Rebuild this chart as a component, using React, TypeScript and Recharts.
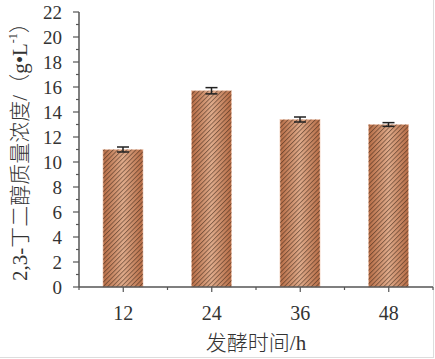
import React from 'react';
import { BarChart, Bar, XAxis, YAxis, ErrorBar } from 'recharts';

const categories = ['12', '24', '36', '48'];
const concentration = [11.0, 15.7, 13.4, 13.0];
const errors = [0.2, 0.25, 0.2, 0.15];
const yTicks = [0, 1, 2, 3, 4, 5, 6, 7, 8, 9, 10, 11, 12, 13, 14, 15, 16, 17, 18, 19, 20, 21, 22];
const yLabelTicks = [0, 2, 4, 6, 8, 10, 12, 14, 16, 18, 20, 22];
const xTitle = '发酵时间/h';
const yTitle = '2,3-丁二醇质量浓度/（g•L';

const data = categories.map((c, i) => ({ time: c, value: concentration[i], err: errors[i] }));

const SERIF = "'Liberation Serif', 'Noto Sans CJK SC', serif";
const AXIS = '#555';
const TXT = '#333';

const HatchBar = (props: any) => {
  const { x, y, width, height } = props;
  if (!height || height <= 0) return null;
  return (
    <g>
      <rect x={x} y={y} width={width} height={height} fill="url(#barGrad)" stroke="#f2cdb8" strokeWidth={0.8} />
      <rect x={x} y={y} width={width} height={height} fill="url(#hatch)" />
    </g>
  );
};

const YTick = (props: any) => {
  const { x, y, payload } = props;
  const ax = x + 17;
  const major = yLabelTicks.includes(payload.value);
  return (
    <g>
      <line x1={ax - (major ? 6 : 3)} x2={ax} y1={y} y2={y} stroke={AXIS} strokeWidth={1.2} />
      {major && (
        <text x={x} y={y} textAnchor="end" dominantBaseline="central" fontSize={19} fill={TXT} fontFamily={SERIF}>
          {payload.value}
        </text>
      )}
    </g>
  );
};

const XTick = (props: any) => {
  const { x, y, payload, width, visibleTicksCount, index } = props;
  const half = width / visibleTicksCount / 2;
  return (
    <g>
      <line x1={x} x2={x} y1={y} y2={y + 5} stroke={AXIS} strokeWidth={1.2} />
      <line x1={x + half} x2={x + half} y1={y} y2={y + 3} stroke={AXIS} strokeWidth={1.2} />
      {index === 0 && <line x1={x - half} x2={x - half} y1={y} y2={y + 3} stroke={AXIS} strokeWidth={1.2} />}
      <text x={x} y={y + 33} textAnchor="middle" fontSize={20} fill={TXT} fontFamily={SERIF}>
        {payload.value}
      </text>
    </g>
  );
};

const XLabel = (props: any) => {
  const vb = props.viewBox || {};
  return (
    <text x={vb.x + vb.width / 2} y={vb.y + 56} textAnchor="middle" dominantBaseline="central" fontSize={21} fontWeight={300} fill={TXT} fontFamily={SERIF}>
      {xTitle}
    </text>
  );
};

const YLabel = (props: any) => {
  const vb = props.viewBox || {};
  const cx = 20;
  const cy = vb.y + vb.height / 2 - 3;
  return (
    <text x={cx} y={cy} transform={`rotate(-90, ${cx}, ${cy})`} textAnchor="middle" dominantBaseline="central" fontSize={21} fontWeight={300} fill={TXT} fontFamily={SERIF}>
      {yTitle}
      <tspan fontSize={12} dy={-7}>-1</tspan>
      <tspan dy={7}>）</tspan>
    </text>
  );
};

export default function App() {
  return (
    <div style={{ position: 'absolute', left: 0, top: 0, width: 435, height: 359, background: '#fff' }}>
      <div style={{ position: 'absolute', left: 0, top: 0, width: 433, height: 357, borderRight: '1px solid #ddd', borderBottom: '1px solid #ddd' }} />
      <BarChart width={435} height={359} data={data} margin={{ top: 12, right: 2, bottom: 0, left: 0 }} barSize={40}>
        <defs>
          <linearGradient id="barGrad" x1="0" y1="0" x2="1" y2="0">
            <stop offset="0" stopColor="#b86e47" />
            <stop offset="0.5" stopColor="#e0ac8c" />
            <stop offset="1" stopColor="#b86e47" />
          </linearGradient>
          <pattern id="hatch" patternUnits="userSpaceOnUse" width="3.2" height="3.2" patternTransform="rotate(45)">
            <line x1="0.5" y1="0" x2="0.5" y2="3.2" stroke="#3c2416" strokeWidth="0.8" strokeOpacity="0.65" />
          </pattern>
        </defs>
        <XAxis
          dataKey="time"
          interval={0}
          height={72}
          tickSize={0}
          tickMargin={0}
          tickLine={false}
          axisLine={{ stroke: AXIS, strokeWidth: 1.5 }}
          tick={<XTick />}
          label={<XLabel />}
        />
        <YAxis
          domain={[0, 22]}
          ticks={yTicks}
          interval={0}
          width={79}
          tickSize={6}
          tickMargin={11}
          tickLine={false}
          axisLine={{ stroke: AXIS, strokeWidth: 1.5 }}
          tick={<YTick />}
          label={<YLabel />}
        />
        <Bar dataKey="value" shape={<HatchBar />} isAnimationActive={false}>
          <ErrorBar dataKey="err" width={6} stroke="#222" strokeWidth={1.5} />
        </Bar>
      </BarChart>
    </div>
  );
}
